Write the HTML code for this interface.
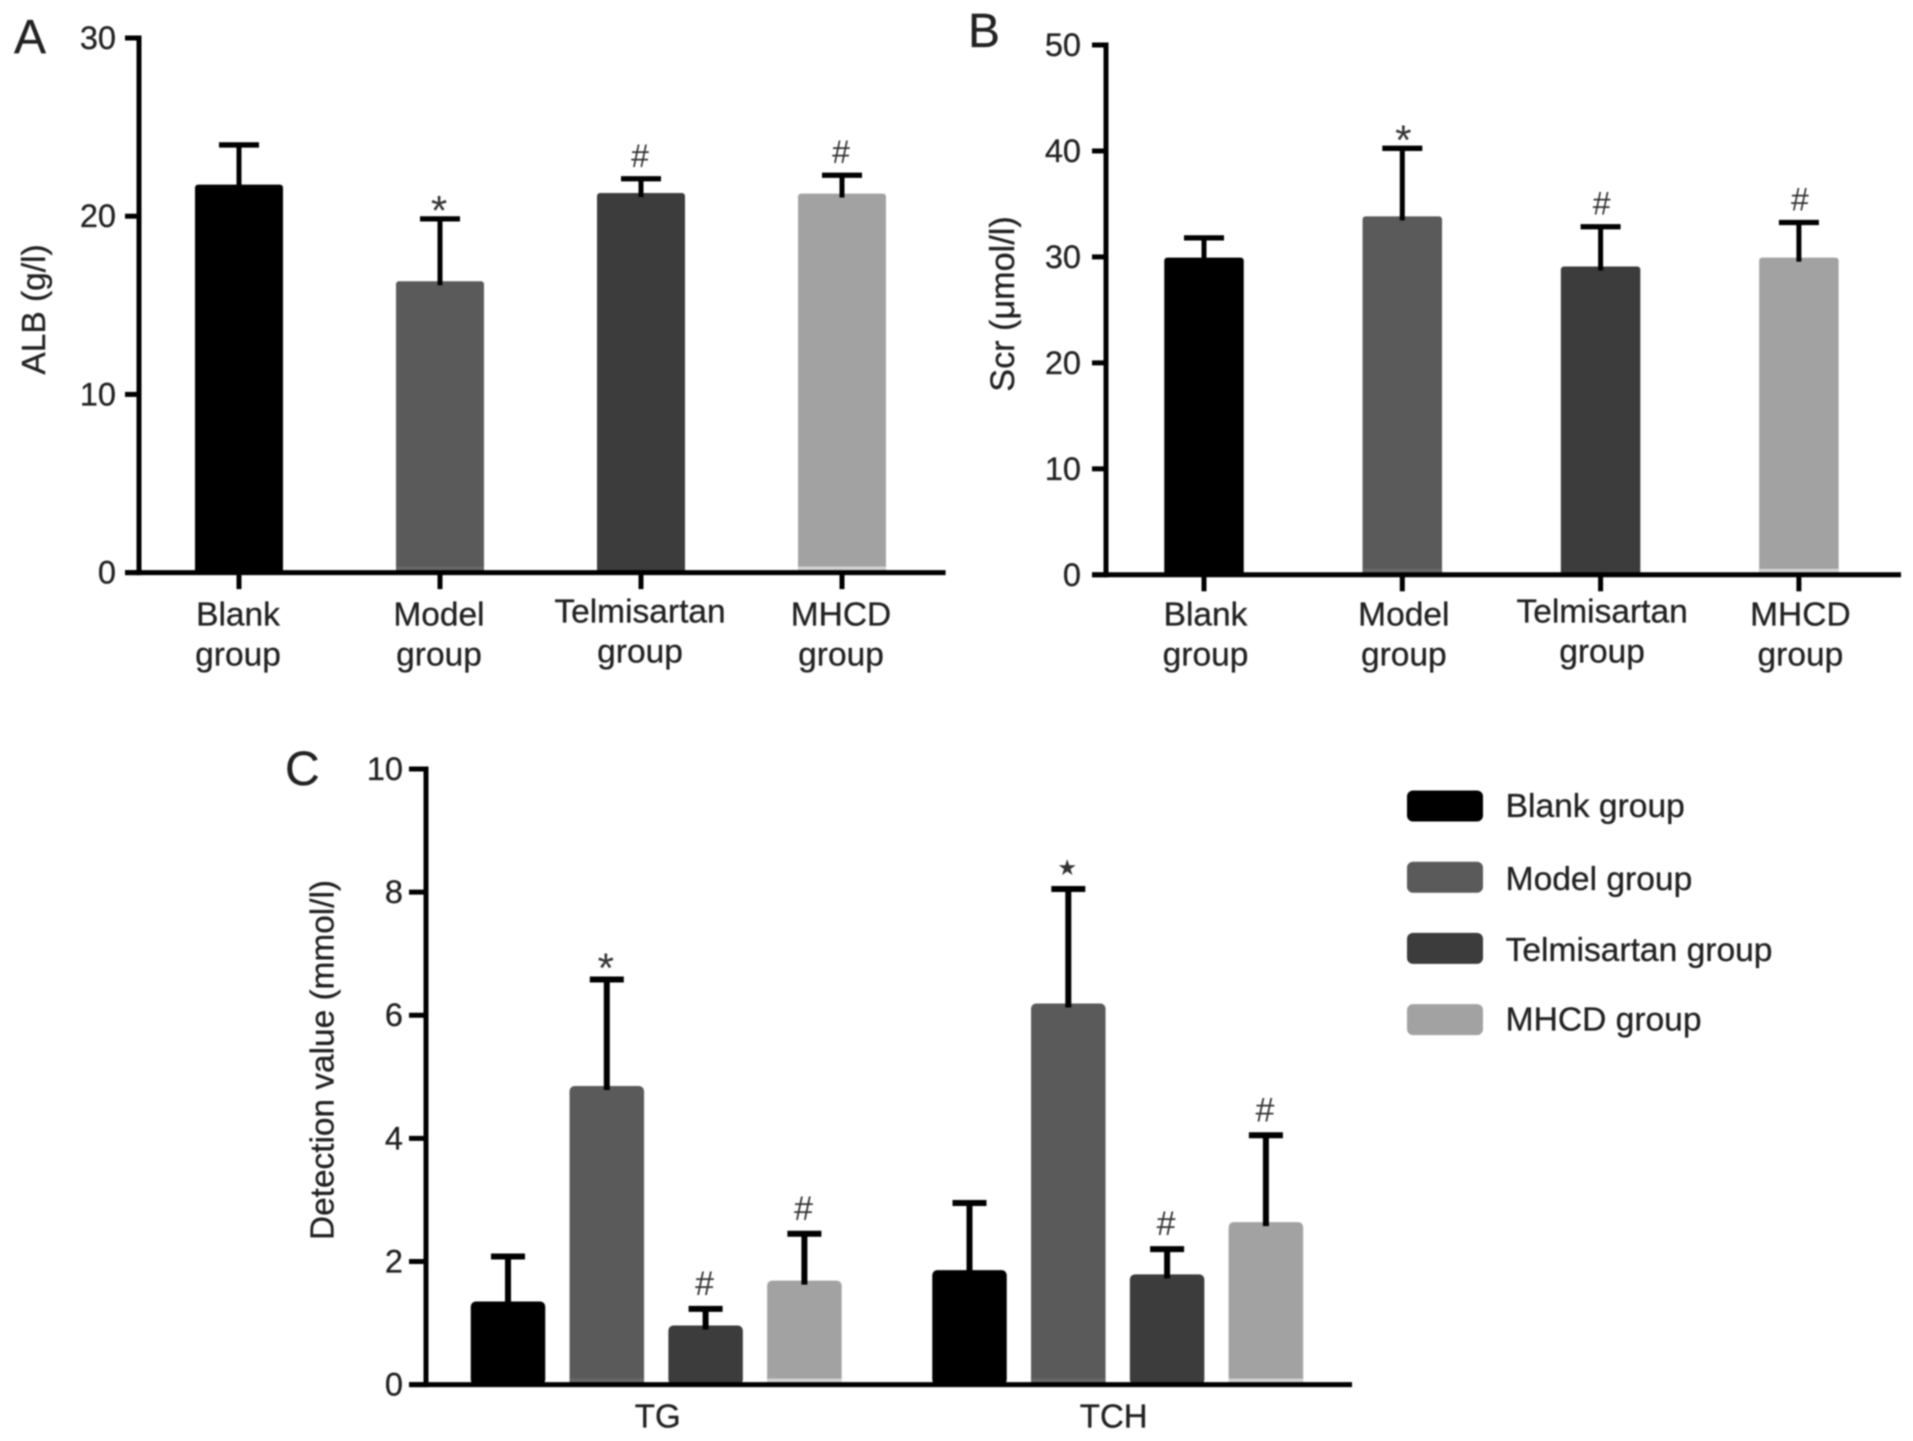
<!DOCTYPE html>
<html lang="en">
<head>
<meta charset="utf-8">
<title>ALB, Scr, TG and TCH by group</title>
<style>
html,body{margin:0;padding:0;background:#fff;}
body{width:1913px;height:1441px;overflow:hidden;}
svg{display:block;filter:blur(0.7px);}
text{font-family:"Liberation Sans","DejaVu Sans",sans-serif;fill:#222;stroke:#222;stroke-width:0.3px;}
text.marker{stroke:none;fill:#333;}
</style>
</head>
<body>
<svg id="figure" width="1913" height="1441" viewBox="0 0 1913 1441" xmlns="http://www.w3.org/2000/svg">
  <g id="panel-a"></g>
  <g id="panel-b"></g>
  <g id="panel-c"></g>
  <g id="legend"></g>
</svg>
<script>
// Shared data
const groupNames = ["Blank group", "Model group", "Telmisartan group", "MHCD group"];
const barColors = ["#000000", "#5a5a5a", "#3c3c3c", "#a2a2a2"];
const fringeColors = ["", "#686868", "", "#d2d2d2"];

// Panel A
const albValues = [21.77, 16.35, 21.3, 21.27];
const albErrors = [2.23, 3.5, 0.8, 1.03];
const albMarkers = ["", "*", "#", "#"];
const albTicks = [0, 10, 20, 30];

// Panel B
const scrValues = [29.93, 33.83, 29.1, 29.93];
const scrErrors = [1.87, 6.42, 3.75, 3.32];
const scrMarkers = ["", "*", "#", "#"];
const scrTicks = [0, 10, 20, 30, 40, 50];

// Panel C
const lipidCategories = ["TG", "TCH"];
const tgValues = [1.35, 4.85, 0.96, 1.69];
const tgErrors = [0.73, 1.73, 0.27, 0.76];
const tgMarkers = ["", "*", "#", "#"];
const tchValues = [1.86, 6.19, 1.79, 2.64];
const tchErrors = [1.09, 1.86, 0.41, 1.41];
const tchMarkers = ["", "\u2605", "#", "#"];
const lipidTicks = [0, 2, 4, 6, 8, 10];

const NS = "http://www.w3.org/2000/svg";

function make(parent, tag, attrs, content) {
  const el = document.createElementNS(NS, tag);
  for (const key in attrs) el.setAttribute(key, attrs[key]);
  if (content !== undefined) el.textContent = content;
  parent.appendChild(el);
  return el;
}

function scaleY(zeroY, topY, maxValue) {
  return function (v) { return zeroY - (v / maxValue) * (zeroY - topY); };
}

function markerStyle(marker, style) {
  if (marker === "*") return {size: 42, dy: style.starDy};
  if (marker === "#") return {size: style.hashSize, dy: style.hashDy};
  return {size: 22, dy: -14};
}

function drawBar(root, key, xc, style, y, value, error, colorIndex, marker) {
  const errorTop = y(value + error);
  const bar = make(root, "rect", {x: xc - style.barWidth / 2, y: y(value), width: style.barWidth, height: y(0) - y(value), fill: barColors[colorIndex], rx: style.radius});
  
  
  const stem = make(root, "line", {x1: xc, x2: xc, y1: y(value) + 4, y2: errorTop, stroke: "#000", "stroke-width": style.stem});
  
  
  const cap = make(root, "line", {x1: xc - style.capWidth / 2, x2: xc + style.capWidth / 2, y1: errorTop, y2: errorTop, stroke: "#000", "stroke-width": style.capThick});
  
  
  if (fringeColors[colorIndex]) {
    const fringe = make(root, "rect", {x: xc - style.barWidth / 2, y: y(0) - 6, width: style.barWidth, height: 6, fill: fringeColors[colorIndex]});
    
    
  }
  if (marker) {
    const m = markerStyle(marker, style);
    const label = make(root, "text", {x: xc + style.markerDx, y: errorTop + m.dy, "text-anchor": "middle", "font-size": m.size, class: "marker"}, marker);
    
    
  }
}

function drawAxes(root, prefix, axisX, leftX, rightX, y, ticks, labelRight) {
  const yAxis = make(root, "line", {x1: axisX, x2: axisX, y1: y(ticks[ticks.length - 1]) - 2.5, y2: y(0) + 2.5, stroke: "#000", "stroke-width": 5});
  
  
  const xAxis = make(root, "line", {x1: leftX, x2: rightX, y1: y(0), y2: y(0), stroke: "#000", "stroke-width": 5});
  
  
  ticks.forEach(function (t) {
    const tick = make(root, "line", {x1: leftX, x2: axisX, y1: y(t), y2: y(t), stroke: "#000", "stroke-width": 5});
    
    
    const label = make(root, "text", {x: labelRight, y: y(t) + 11, "text-anchor": "end", "font-size": 32.5}, String(t));
    
    
  });
}

function drawTitle(root, name, baselineX, centerY, size, text) {
  const title = make(root, "text", {
    x: baselineX, y: centerY, "text-anchor": "middle", "font-size": size,
    transform: "rotate(-90 " + baselineX + " " + centerY + ")"
  }, text);
  
  
}

function drawPanelLetter(root, name, x, y, letter) {
  const el = make(root, "text", {x: x, y: y, "font-size": 48, fill: "#111"}, letter);
  
  
}

function drawCategoryLabels(root, prefix, xLabel) {
  groupNames.forEach(function (name, i) {
    const words = name.split(" ");
    const shift = i === 2 ? -3 : 0;
    const first = make(root, "text", {x: xLabel(i), y: 625.5 + shift, "text-anchor": "middle", "font-size": 33.5}, words[0]);
    
    
    const second = make(root, "text", {x: xLabel(i), y: 665.5 + shift, "text-anchor": "middle", "font-size": 33.5}, words[1]);
    
    
  });
}

function drawSimplePanel(root, prefix, cfg) {
  const y = scaleY(cfg.zeroY, cfg.topY, cfg.ticks[cfg.ticks.length - 1]);
  const x = function (i) { return cfg.firstX + i * cfg.stepX; };
  const style = {barWidth: cfg.barWidth, capWidth: 40, stem: 5, capThick: 5.3, radius: 3, starDy: 6, hashDy: -12, hashSize: 32, markerDx: cfg.markerDx};
  cfg.values.forEach(function (v, i) {
    drawBar(root, prefix + '-' + i, x(i), style, y, v, cfg.errors[i], i, cfg.markers[i]);
    const tick = make(root, "line", {x1: x(i), x2: x(i), y1: cfg.zeroY, y2: cfg.zeroY + 16.5, stroke: "#000", "stroke-width": 5});
    
    
  });
  drawAxes(root, prefix, cfg.axisX, cfg.axisX - 14, cfg.rightX, y, cfg.ticks, cfg.labelRight);
  drawCategoryLabels(root, prefix, function (i) { return x(i) + cfg.labelShift; });
}

drawSimplePanel(document.getElementById("panel-a"), "panel-a", {
  values: albValues, errors: albErrors, markers: albMarkers, ticks: albTicks,
  zeroY: 572.6, topY: 38, firstX: 239, stepX: 201, barWidth: 88,
  axisX: 139, rightX: 945.6, labelRight: 116, labelShift: -1, markerDx: -1
});
drawTitle(document.getElementById("panel-a"), "panel-a-y-axis-title", 45, 309.5, 33.5, "ALB (g/l)");
drawPanelLetter(document.getElementById("panel-a"), "panel-a-letter", 14, 53, "A");

drawSimplePanel(document.getElementById("panel-b"), "panel-b", {
  values: scrValues, errors: scrErrors, markers: scrMarkers, ticks: scrTicks,
  zeroY: 574.8, topY: 45, firstX: 1204, stepX: 198.3, barWidth: 79.5,
  axisX: 1106, rightX: 1901, labelRight: 1081, labelShift: 1.5, markerDx: 1
});
drawTitle(document.getElementById("panel-b"), "panel-b-y-axis-title", 1014, 304, 34.2, "Scr (\u03bcmol/l)");
drawPanelLetter(document.getElementById("panel-b"), "panel-b-letter", 968, 47, "B");

(function () {
  const root = document.getElementById("panel-c");
  const y = scaleY(1384.6, 769, lipidTicks[lipidTicks.length - 1]);
  const seriesValues = [tgValues, tchValues];
  const seriesErrors = [tgErrors, tchErrors];
  const seriesMarkers = [tgMarkers, tchMarkers];
  const x = function (g, s) { return 508 + g * 461.5 + s * 98.8; };
  const style = {barWidth: 74.5, capWidth: 34, stem: 6, capThick: 6, radius: 5, starDy: 3, hashDy: -14, hashSize: 34, markerDx: -1};
  lipidCategories.forEach(function (cat, g) {
    seriesValues[g].forEach(function (v, s) {
      drawBar(root, 'panel-c-' + cat.toLowerCase() + '-' + s, x(g, s), style, y, v, seriesErrors[g][s], s, seriesMarkers[g][s]);
    });
    const label = make(root, "text", {x: (x(g, 0) + x(g, 3)) / 2 + (g === 0 ? 1.5 : -4), y: 1427.5, "text-anchor": "middle", "font-size": 33}, cat);
    
    
  });
  drawAxes(root, "panel-c", 426, 409, 1352, y, lipidTicks, 403);
  drawTitle(root, "panel-c-y-axis-title", 333.5, 1060, 33.4, "Detection value (mmol/l)");
  drawPanelLetter(root, "panel-c-letter", 285, 785, "C");
})();

(function () {
  const root = document.getElementById("legend");
  const legendNudge = [-1, 1, 1, -1];
  groupNames.forEach(function (name, i) {
    const swatch = make(root, "rect", {x: 1407, y: 790.5 + i * 71.2, width: 76, height: 31, rx: 6, fill: barColors[i]});
    
    
    const text = make(root, "text", {x: 1505.6, y: 818 + i * 71.1 + legendNudge[i], "font-size": 33.6}, name);
    
    
  });
})();
</script>
</body>
</html>
